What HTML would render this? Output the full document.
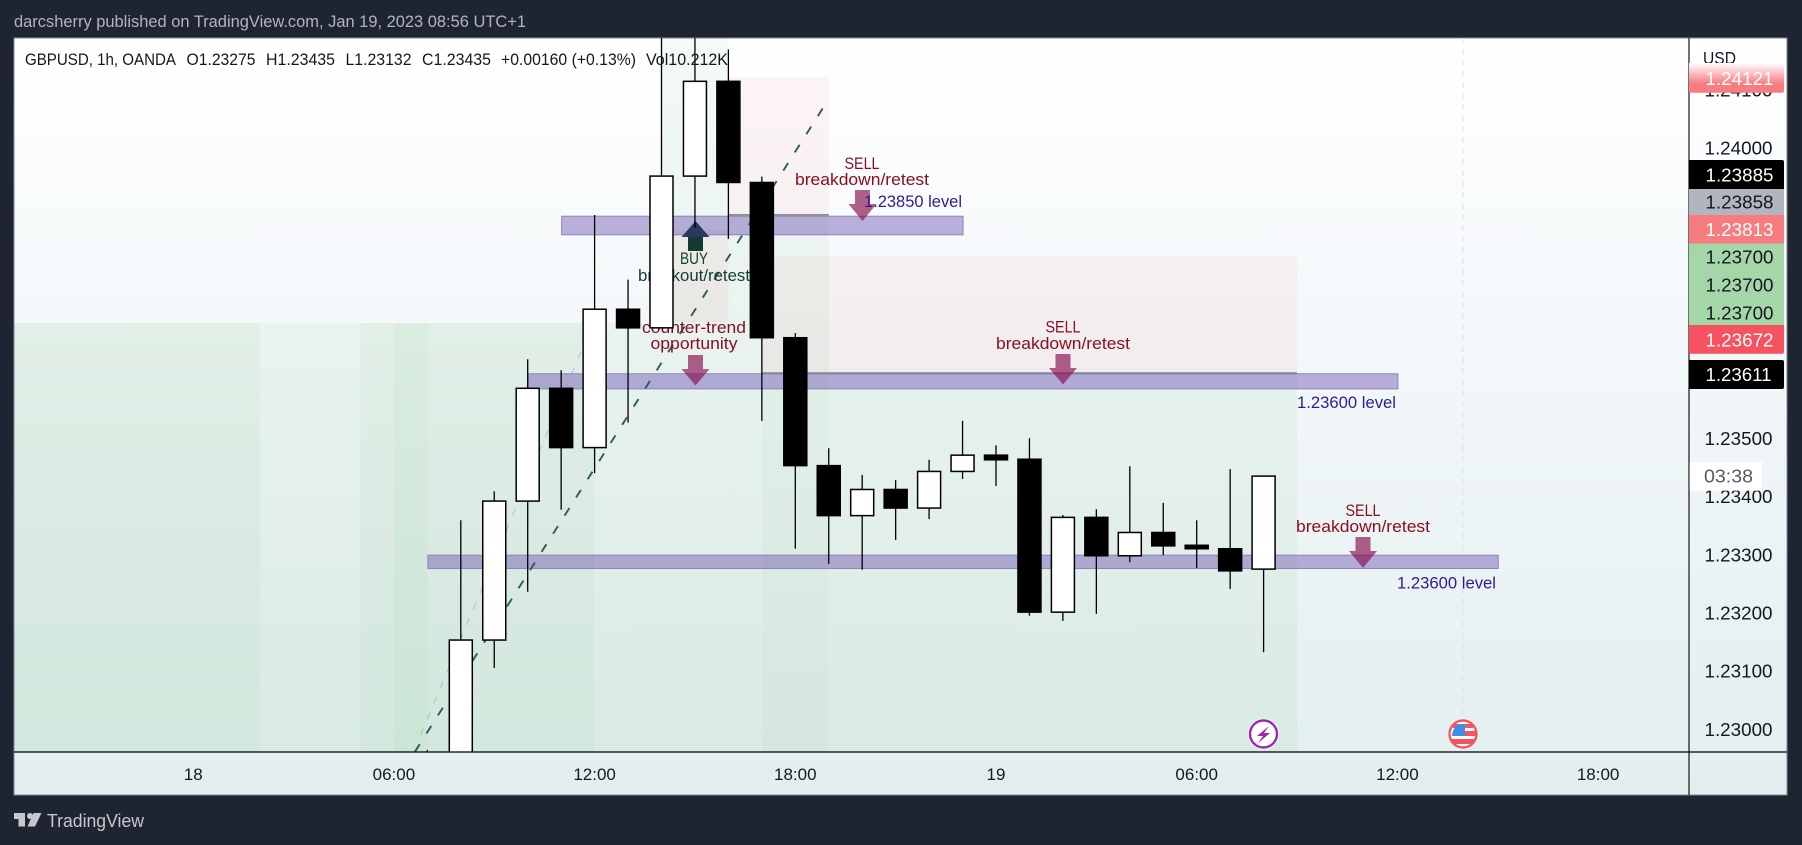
<!DOCTYPE html>
<html lang="en">
<head>
<meta charset="utf-8">
<title>GBPUSD 1h chart</title>
<style>
html,body{margin:0;padding:0;background:#1f2431;width:1802px;height:845px;overflow:hidden}
svg{display:block}
text{font-family:"Liberation Sans",sans-serif}
</style>
</head>
<body>
<svg id="root" width="1802" height="845" viewBox="0 0 1802 845" xmlns="http://www.w3.org/2000/svg">
<defs>
<linearGradient id="bg" x1="0" y1="0" x2="0" y2="1">
<stop offset="0" stop-color="#ffffff"/><stop offset="0.38" stop-color="#f4f8fa"/><stop offset="1" stop-color="#e2eeee"/>
</linearGradient>
<linearGradient id="fadeTag" x1="0" y1="0" x2="0" y2="1">
<stop offset="0" stop-color="#ffffff"/><stop offset="0.7" stop-color="#f77c80"/><stop offset="1" stop-color="#f77c80"/>
</linearGradient>
<clipPath id="plotClip"><rect x="14" y="38" width="1675" height="714"/></clipPath>
</defs>

<rect width="1802" height="845" fill="#1f2431"/>
<text x="14" y="27" font-size="17" fill="#b2b5be" textLength="512" lengthAdjust="spacingAndGlyphs">darcsherry published on TradingView.com, Jan 19, 2023 08:56 UTC+1</text>

<rect x="14" y="38" width="1773" height="757" fill="url(#bg)" stroke="#868993" stroke-width="1"/>

<g clip-path="url(#plotClip)">
<g id="zones"></g>
<line x1="1463" y1="38" x2="1463" y2="720" stroke="#dde1e6" stroke-width="1" stroke-dasharray="6 5"/>
<g id="levels"></g>
<g id="trends"></g>

<g>
<text x="862" y="169" font-size="17" fill="#880e1f" text-anchor="middle" textLength="35" lengthAdjust="spacingAndGlyphs">SELL</text>
<text x="862" y="185" font-size="17" fill="#880e1f" text-anchor="middle" textLength="134" lengthAdjust="spacingAndGlyphs">breakdown/retest</text>
<polygon points="855,190 870,190 870,204 876.5,204 862.5,221 848.5,204 855,204" fill="#880e4f" fill-opacity="0.66"/>
<text x="864" y="207" font-size="17" fill="#311b92" textLength="98" lengthAdjust="spacingAndGlyphs">1.23850 level</text>
</g>
<g>
<text x="1063" y="332.500" font-size="17" fill="#880e1f" text-anchor="middle" textLength="35" lengthAdjust="spacingAndGlyphs">SELL</text>
<text x="1063" y="349" font-size="17" fill="#880e1f" text-anchor="middle" textLength="134" lengthAdjust="spacingAndGlyphs">breakdown/retest</text>
<polygon points="1055.500,354 1070.500,354 1070.500,368 1077,368 1063,384.500 1049,368 1055.500,368" fill="#880e4f" fill-opacity="0.66"/>
<text x="1297" y="408" font-size="17" fill="#311b92" textLength="99" lengthAdjust="spacingAndGlyphs">1.23600 level</text>
</g>
<g>
<text x="1363" y="516" font-size="17" fill="#880e1f" text-anchor="middle" textLength="35" lengthAdjust="spacingAndGlyphs">SELL</text>
<text x="1363" y="532" font-size="17" fill="#880e1f" text-anchor="middle" textLength="134" lengthAdjust="spacingAndGlyphs">breakdown/retest</text>
<polygon points="1355.500,537 1370.500,537 1370.500,551 1377,551 1363,568 1349,551 1355.500,551" fill="#880e4f" fill-opacity="0.66"/>
<text x="1397" y="588.500" font-size="17" fill="#311b92" textLength="99" lengthAdjust="spacingAndGlyphs">1.23600 level</text>
</g>
<g>
<text x="694" y="333" font-size="17" fill="#880e1f" text-anchor="middle" textLength="104" lengthAdjust="spacingAndGlyphs">counter-trend</text>
<text x="694" y="349" font-size="17" fill="#880e1f" text-anchor="middle" textLength="87" lengthAdjust="spacingAndGlyphs">opportunity</text>
<polygon points="688,355 703,355 703,369 709.500,369 695.500,385.500 681.500,369 688,369" fill="#880e4f" fill-opacity="0.66"/>
</g>
<g>
<text x="694" y="264" font-size="17" fill="#133d32" text-anchor="middle" textLength="28" lengthAdjust="spacingAndGlyphs">BUY</text>
<text x="694" y="281" font-size="17" fill="#133d32" text-anchor="middle" textLength="112" lengthAdjust="spacingAndGlyphs">breakout/retest</text>
<polygon points="688,236 703,236 703,251 688,251" fill="#163a33"/>
<polygon points="695.500,221 709.500,237 681.500,237" fill="#27395f"/>
</g>

<g id="candles"></g>

<g>
<text x="25" y="65" font-size="17" fill="#131722" textLength="151" lengthAdjust="spacingAndGlyphs">GBPUSD, 1h, OANDA</text>
<text x="186.500" y="65" font-size="17" fill="#131722" textLength="69" lengthAdjust="spacingAndGlyphs">O1.23275</text>
<text x="266" y="65" font-size="17" fill="#131722" textLength="69" lengthAdjust="spacingAndGlyphs">H1.23435</text>
<text x="345.500" y="65" font-size="17" fill="#131722" textLength="66" lengthAdjust="spacingAndGlyphs">L1.23132</text>
<text x="422" y="65" font-size="17" fill="#131722" textLength="69" lengthAdjust="spacingAndGlyphs">C1.23435</text>
<text x="501" y="65" font-size="17" fill="#131722" textLength="135" lengthAdjust="spacingAndGlyphs">+0.00160 (+0.13%)</text>
<text x="646" y="65" font-size="17" fill="#131722" textLength="82" lengthAdjust="spacingAndGlyphs">Vol10.212K</text>
</g>

<g>
<circle cx="1263.500" cy="734" r="15.500" fill="#ffffff"/>
<circle cx="1263.500" cy="734" r="13.500" fill="#ffffff" stroke="#9c27b0" stroke-width="2.400"/>
<polygon points="1269,726 1257,736 1263,736 1258,743 1270,733 1264,733" fill="#9c27b0"/>
</g>
<g>
<circle cx="1463" cy="734" r="15" fill="#ffffff"/>
<circle cx="1463" cy="734" r="12" fill="#ffffff"/>
<rect x="1453" y="724" width="20" height="4" fill="#f7525f"/>
<rect x="1465" y="731" width="11" height="5" fill="#f7525f"/>
<rect x="1452" y="739" width="22" height="5" fill="#f7525f"/>
<path d="M1451.800,736 L1465,736 L1465,724 L1459,724 Q1453,727 1451.800,736 Z" fill="#3f8ee8"/>
<circle cx="1463" cy="734" r="13.500" fill="none" stroke="#f7525f" stroke-width="2.400"/>
</g>
</g>

<g id="timeAxis"></g>
<g id="priceAxis"></g>

<line x1="14" y1="752" x2="1787" y2="752" stroke="#000" stroke-width="1.300"/>
<line x1="1689" y1="38" x2="1689" y2="795" stroke="#000" stroke-width="1.100"/>

<text x="1719.500" y="64" font-size="17.500" fill="#131722" text-anchor="middle" textLength="33" lengthAdjust="spacingAndGlyphs">USD</text>

<g>
<path d="M1689,63 H1784 V90.700 a2,2 0 0 1 -2,2 H1689 Z" fill="url(#fadeTag)"/>
<text x="1705.500" y="85" font-size="18.700" fill="#ffffff" textLength="68" lengthAdjust="spacingAndGlyphs">1.24121</text>
<path d="M1689,160 H1782 a2,2 0 0 1 2,2 V189 H1689 Z" fill="#000"/>
<text x="1705.500" y="181.500" font-size="18.700" fill="#ffffff" textLength="68" lengthAdjust="spacingAndGlyphs">1.23885</text>
<rect x="1689" y="189" width="95" height="26" fill="#b2b5be"/>
<text x="1705.500" y="208.500" font-size="18.700" fill="#131722" textLength="68" lengthAdjust="spacingAndGlyphs">1.23858</text>
<rect x="1689" y="215" width="95" height="28.500" fill="#f77c80"/>
<text x="1705.500" y="236" font-size="18.700" fill="#ffffff" textLength="68" lengthAdjust="spacingAndGlyphs">1.23813</text>
<rect x="1689" y="243.500" width="95" height="81.500" fill="#a5d6a7"/>
<text x="1705.500" y="263.500" font-size="18.700" fill="#131722" textLength="68" lengthAdjust="spacingAndGlyphs">1.23700</text>
<text x="1705.500" y="291.300" font-size="18.700" fill="#131722" textLength="68" lengthAdjust="spacingAndGlyphs">1.23700</text>
<text x="1705.500" y="319.500" font-size="18.700" fill="#131722" textLength="68" lengthAdjust="spacingAndGlyphs">1.23700</text>
<path d="M1689,325 H1784 V351.700 a2,2 0 0 1 -2,2 H1689 Z" fill="#f7525f"/>
<text x="1705.500" y="346.300" font-size="18.700" fill="#ffffff" textLength="68" lengthAdjust="spacingAndGlyphs">1.23672</text>
<path d="M1689,360 H1782 a2,2 0 0 1 2,2 V387 a2,2 0 0 1 -2,2 H1689 Z" fill="#000"/>
<text x="1705.500" y="381" font-size="18.700" fill="#ffffff" textLength="66" lengthAdjust="spacingAndGlyphs">1.23611</text>
<rect x="1689.500" y="462" width="72.500" height="28.700" fill="#ffffff"/>
<text x="1728.500" y="482.500" font-size="18.700" fill="#555a63" text-anchor="middle" textLength="49" lengthAdjust="spacingAndGlyphs">03:38</text>
</g>

<g>
<path d="M14,813 H25 V826.500 H18.500 V819 H14 Z" fill="#c5c8ce"/>
<circle cx="30" cy="816" r="3" fill="#c5c8ce"/>
<path d="M33.500,813 H41.500 L35,826.500 H27.500 Z" fill="#c5c8ce"/>
<text x="47" y="827" font-size="18" fill="#c5c8ce" textLength="97" lengthAdjust="spacingAndGlyphs">TradingView</text>
</g>
</svg>

<script>
// Bars: hours counted from 18 Jan 00:00, prices
var barHours  = [7,8,9,10,11,12,13,14,15,16,17,18,19,20,21,22,23,24,25,26,27,28,29,30,31,32];
var barOpens  = [1.2285,1.2290,1.23153,1.23392,1.23586,1.23484,1.23722,1.23690,1.23951,1.24114,1.23940,1.23673,1.23453,1.23367,1.23412,1.23380,1.23443,1.23471,1.23464,1.23201,1.23364,1.23298,1.23338,1.23316,1.23310,1.23275];
var barHighs  = [1.22964,1.23359,1.23409,1.23636,1.23617,1.23884,1.23773,1.2425,1.2425,1.24169,1.2395,1.23681,1.23483,1.23437,1.23428,1.23463,1.2353,1.23488,1.235,1.23368,1.23378,1.23452,1.23389,1.23359,1.23447,1.23435];
var barLows   = [1.2281,1.2285,1.23105,1.23236,1.23377,1.2344,1.23527,1.2369,1.23862,1.23843,1.2353,1.2331,1.23284,1.23274,1.23325,1.23361,1.2343,1.23418,1.23195,1.23186,1.23198,1.23287,1.23299,1.23277,1.23241,1.23132];
var barCloses = [1.2290,1.23153,1.23392,1.23586,1.23484,1.23722,1.23690,1.23951,1.24114,1.23940,1.23673,1.23453,1.23367,1.23412,1.23380,1.23443,1.23471,1.23463,1.23201,1.23364,1.23298,1.23338,1.23315,1.23310,1.23272,1.23435];
var priceTicks = [1.230,1.231,1.232,1.233,1.234,1.235,1.236,1.237,1.238,1.239,1.240,1.241];
var priceTickLabels = ['1.23000','1.23100','1.23200','1.23300','1.23400','1.23500','1.23600','1.23700','1.23800','1.23900','1.24000','1.24100'];
var timeTicks = [0,6,12,18,24,30,36,42];
var timeTickLabels = ['18','06:00','12:00','18:00','19','06:00','12:00','18:00'];
var levelStarts = [11,10,7];
var levelEnds   = [23,36,39];
var levelUppers = [1.23882,1.23611,1.23299];
var levelLowers = [1.2385,1.23585,1.23276];
var trendHours  = [6.63,18.98];
var trendPrices = [1.22961,1.24082];
var faintHours  = [6.8,11.6];
var faintPrices = [1.22990,1.23650];

var NS = 'http://www.w3.org/2000/svg';
var plotFloor = 1.2296;
function xOf(h){ return 193.2 + h * 33.45; }
function yOf(p){ return 729 - (p - 1.23) * 58140; }
function mk(tag, attrs, parent){
  var el = document.createElementNS(NS, tag);
  for (var k in attrs) el.setAttribute(k, attrs[k]);
  parent.appendChild(el);
  return el;
}

var zonesG = document.getElementById('zones');
function zone(h0, h1, pTop, pBottom, fill, alpha, name){
  var el = mk('rect', {x: xOf(h0), y: yOf(pTop), width: xOf(h1) - xOf(h0), height: yOf(pBottom) - yOf(pTop), fill: fill, 'fill-opacity': alpha}, zonesG);
  
  
}
var GREEN = 'rgb(76,175,80)', RED = 'rgb(244,67,54)';
zone(-5.36, 14, 1.23698, plotFloor, GREEN, 0.06, 'profit-zone-base');
zone(14, 16, 1.2425, plotFloor, GREEN, 0.06, 'profit-column-buy');
zone(16, 19, 1.23885, plotFloor, GREEN, 0.06, 'profit-column-sell');
zone(19, 33, 1.23611, plotFloor, GREEN, 0.06, 'profit-zone-late');
zone(-5.36, 2, 1.23698, plotFloor, GREEN, 0.05, 'profit-zone-early');
zone(5, 12, 1.23698, plotFloor, GREEN, 0.05, 'profit-zone-morning');
zone(6, 7, 1.23698, plotFloor, GREEN, 0.045, 'profit-zone-overlap');
zone(17, 19, 1.23611, plotFloor, GREEN, 0.035, 'profit-zone-evening');
zone(16, 19, 1.24121, 1.23885, RED, 0.05, 'risk-zone-upper');
zone(17, 33, 1.23813, 1.23611, RED, 0.05, 'risk-zone-middle');
zone(14, 16, 1.23858, 1.237, RED, 0.06, 'risk-zone-counter-trend');

var entryA = mk('rect', {x: xOf(16), y: 214, width: xOf(19) - xOf(16), height: 1.8, fill: '#8d8d8d'}, zonesG);


var entryB = mk('rect', {x: xOf(17), y: 372.4, width: xOf(33) - xOf(17), height: 1.8, fill: '#6f6f6f'}, zonesG);



var levelsG = document.getElementById('levels');
levelStarts.forEach(function(h0, i){
  var band = mk('rect', {x: xOf(h0) + 0.5, y: yOf(levelUppers[i]), width: xOf(levelEnds[i]) - xOf(h0), height: yOf(levelLowers[i]) - yOf(levelUppers[i]), fill: 'rgb(92,62,170)', 'fill-opacity': 0.4, stroke: '#8f84b6', 'stroke-width': 1}, levelsG);
  
  
});

var trendsG = document.getElementById('trends');
var faint = mk('line', {x1: xOf(faintHours[0]), y1: yOf(faintPrices[0]), x2: xOf(faintHours[1]), y2: yOf(faintPrices[1]), stroke: '#8a9a96', 'stroke-opacity': 0.5, 'stroke-width': 1, 'stroke-dasharray': '7 10'}, trendsG);


var trend = mk('line', {x1: xOf(trendHours[0]), y1: yOf(trendPrices[0]), x2: xOf(trendHours[1]), y2: yOf(trendPrices[1]), stroke: '#2a5d58', 'stroke-width': 1.9, 'stroke-dasharray': '9 12.500'}, trendsG);



var candlesG = document.getElementById('candles');
barHours.forEach(function(h, i){
  var x = xOf(h), up = barCloses[i] >= barOpens[i];
  var yTop = yOf(Math.max(barOpens[i], barCloses[i])), yBot = yOf(Math.min(barOpens[i], barCloses[i]));
  var wick = mk('line', {x1: x, y1: yOf(barHighs[i]), x2: x, y2: yOf(barLows[i]), stroke: '#000', 'stroke-width': 1.3}, candlesG);
  
  
  var body = mk('rect', {x: x - 11.5, y: yTop, width: 23, height: Math.max(yBot - yTop, 1), fill: up ? '#fff' : '#000', stroke: '#000', 'stroke-width': 1.5}, candlesG);
  
  
});

var timeG = document.getElementById('timeAxis');
timeTicks.forEach(function(h, i){
  var t = mk('text', {x: xOf(h), y: 780, 'font-size': 17, fill: '#131722', 'text-anchor': 'middle'}, timeG);
  t.textContent = timeTickLabels[i];
  
  
});

var priceG = document.getElementById('priceAxis');
priceTicks.forEach(function(p, i){
  var t = mk('text', {x: 1704.5, y: yOf(p) + 6.8, 'font-size': 18.7, fill: '#131722', textLength: 68, lengthAdjust: 'spacingAndGlyphs'}, priceG);
  t.textContent = priceTickLabels[i];
  
  
});
</script>
</body>
</html>
